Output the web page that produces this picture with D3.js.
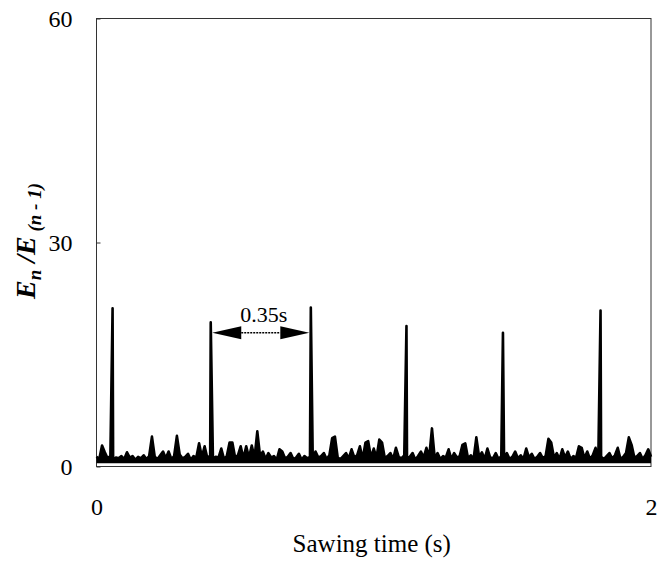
<!DOCTYPE html>
<html>
<head>
<meta charset="utf-8">
<script src="https://cdn.jsdelivr.net/npm/d3@7"></script>
<style>
    body { margin: 0; background: #fff; }
    svg { display: block; }
    text { font-family: "Liberation Serif", "Times New Roman", serif; fill: #000; }
</style>
</head>
<body>
<div id="chart"></div>
<script>
// Energy ratio vs sawing time

// noise trace, one value every 0.01 s from 0 to 2 s
var sampleStep = 0.01;
var noiseValues = [
    1.3, 1.0, 2.8, 1.9, 1.1, 1.4, 0.9, 1.2, 1.1, 1.4,
    1.0, 1.9, 1.2, 1.4, 0.9, 1.3, 1.1, 1.5, 1.0, 1.4,
    4.0, 1.3, 1.0, 1.5, 2.0, 1.1, 2.0, 1.0, 1.4, 4.1,
    1.6, 1.1, 1.3, 1.7, 0.9, 1.4, 1.2, 3.1, 1.3, 2.7,
    1.1, 1.5, 1.0, 1.3, 1.2, 2.4, 1.0, 1.4, 3.2, 3.2,
    1.2, 1.5, 2.7, 1.1, 2.7, 1.2, 2.8, 1.2, 4.7, 1.4,
    2.0, 1.0, 1.8, 1.2, 1.4, 0.9, 2.3, 2.0, 1.1, 1.3,
    1.8, 1.0, 1.2, 1.7, 0.9, 1.4, 1.1, 1.3, 1.0, 2.0,
    1.2, 1.4, 1.8, 1.0, 1.5, 3.8, 4.0, 1.2, 1.0, 1.4,
    1.8, 1.1, 2.3, 1.2, 1.5, 2.7, 1.0, 3.2, 3.4, 1.2,
    2.4, 1.2, 3.6, 3.2, 1.1, 1.4, 1.8, 1.0, 2.5, 1.3,
    1.1, 1.5, 1.0, 1.3, 1.8, 0.9, 1.4, 2.0, 1.2, 2.5,
    1.3, 5.1, 1.1, 1.8, 1.0, 1.4, 1.2, 2.3, 1.0, 1.8,
    1.2, 1.4, 2.9, 3.1, 1.1, 1.5, 1.0, 3.9, 1.3, 1.9,
    1.0, 2.4, 1.2, 1.1, 1.8, 1.0, 1.4, 1.2, 1.8, 1.0,
    1.3, 2.0, 1.1, 1.5, 1.0, 2.4, 1.2, 1.7, 1.0, 1.3,
    1.8, 1.1, 1.4, 3.7, 3.2, 1.2, 1.8, 1.0, 2.3, 1.2,
    2.0, 1.0, 1.4, 1.2, 2.7, 2.5, 1.1, 2.0, 1.0, 1.5,
    2.5, 1.2, 1.3, 1.0, 1.4, 1.8, 1.1, 1.5, 2.5, 1.0,
    1.3, 1.8, 3.9, 2.9, 1.2, 1.4, 1.8, 1.0, 1.5, 2.3,
    1.3
];
// bottom edge of the dense noise band
var noiseFloor = 0.45;

// large energy peaks
var spikeTimes = [0.058, 0.412, 0.773, 1.118, 1.466, 1.818];
var spikeHeights = [21.2, 19.3, 21.3, 18.8, 17.9, 20.9];

// period annotation between 2nd and 3rd peak
var periodFrom = 1;
var periodTo = 2;
var periodLevel = 17.9;
var periodLabel = "0.35s";

var xTicks = [0, 2];
var yTicks = [0, 30, 60];

var svgWidth = 671;
var svgHeight = 563;

var margin = {
    top: 18.5,
    bottom: 96.5,
    right: 20,
    left: 96.5
};

var height = svgHeight - margin.top - margin.bottom;
var width = svgWidth - margin.left - margin.right;

var svg = d3.select("#chart")
    .append("svg")
    .attr("width", svgWidth)
    .attr("height", svgHeight);

var chartGroup = svg.append("g")
    .attr("transform", `translate(${margin.left}, ${margin.top})`);

// build trace: grid samples plus spike points, sorted by time
var trace = noiseValues.map((v, i) => ({ t: i * sampleStep, v: v }));
spikeTimes.forEach(function (t, i) {
    trace.push({ t: t, v: spikeHeights[i] });
});
trace.sort((a, b) => a.t - b.t);

var xLinearScale = d3.scaleLinear()
    .domain([0, 2])
    .range([0, width]);

var yLinearScale = d3.scaleLinear()
    .domain([0, 60])
    .range([height, 0]);

// frame
chartGroup.append("rect")
    .attr("x", 0)
    .attr("y", 0)
    .attr("width", width)
    .attr("height", height)
    .attr("fill", "none")
    .attr("stroke", "#333")
    .attr("stroke-width", 1);

// axes (labels only, small inward ticks on y)
var leftAxis = d3.axisLeft(yLinearScale)
    .tickValues(yTicks)
    .tickFormat(d3.format("d"))
    .tickSize(-4)
    .tickPadding(24);

var bottomAxis = d3.axisBottom(xLinearScale)
    .tickValues(xTicks)
    .tickFormat(d3.format("d"))
    .tickSize(0)
    .tickPadding(31);

var yAxis = chartGroup.append("g")
    .call(leftAxis);

var xAxis = chartGroup.append("g")
    .attr("transform", `translate(0, ${height})`)
    .call(bottomAxis);

[xAxis, yAxis].forEach(function (ax) {
    ax.select(".domain").remove();
    ax.selectAll("line").attr("stroke", "#333");
    ax.selectAll("text")
        .style("font-family", "'Liberation Serif', 'Times New Roman', serif")
        .style("font-size", "24px")
        .attr("fill", "#000");
});

// filled noise band under the trace
var area = d3.area()
    .x(d => xLinearScale(d.t))
    .y0(yLinearScale(noiseFloor))
    .y1(d => yLinearScale(d.v));

chartGroup.append("path")
    .datum(trace)
    .attr("d", area)
    .attr("fill", "#000");

// trace line
var line = d3.line()
    .x(d => xLinearScale(d.t))
    .y(d => yLinearScale(d.v));

chartGroup.append("path")
    .datum(trace)
    .attr("d", line)
    .attr("fill", "none")
    .attr("stroke", "#000")
    .attr("stroke-width", 2.6)
    .attr("stroke-linejoin", "round");

// period arrow
var ax1 = xLinearScale(spikeTimes[periodFrom]) + 1.5;
var ax2 = xLinearScale(spikeTimes[periodTo]) - 1.5;
var ay = yLinearScale(periodLevel);
var headLen = 29;
var headHalf = 6.5;

chartGroup.append("line")
    .attr("x1", ax1 + headLen)
    .attr("x2", ax2 - headLen)
    .attr("y1", ay)
    .attr("y2", ay)
    .attr("stroke", "#000")
    .attr("stroke-width", 1.5)
    .attr("stroke-dasharray", "2,1");

chartGroup.append("path")
    .attr("d", `M${ax1},${ay} L${ax1 + headLen},${ay - headHalf} L${ax1 + headLen},${ay + headHalf} Z`)
    .attr("fill", "#000");

chartGroup.append("path")
    .attr("d", `M${ax2},${ay} L${ax2 - headLen},${ay - headHalf} L${ax2 - headLen},${ay + headHalf} Z`)
    .attr("fill", "#000");

chartGroup.append("text")
    .attr("x", (ax1 + ax2) / 2 + 3)
    .attr("y", ay - 11)
    .attr("text-anchor", "middle")
    .style("font-size", "22px")
    .text(periodLabel);

// x axis title
chartGroup.append("text")
    .attr("x", width / 2 - 2)
    .attr("y", height + 85)
    .attr("text-anchor", "middle")
    .style("font-size", "25px")
    .text("Sawing time (s)");

// y axis title
var yTitle = svg.append("text")
    .attr("transform", `translate(35, 241) rotate(-90)`)
    .attr("text-anchor", "middle")
    .style("font-size", "28px")
    .style("font-weight", "bold")
    .style("font-style", "italic");

yTitle.append("tspan").text("E");
yTitle.append("tspan").attr("dy", 6).style("font-size", "19px").text("n");
yTitle.append("tspan").attr("dy", -6).text(" /E");
yTitle.append("tspan").attr("dy", 6).style("font-size", "19px").text(" (n - 1)");
</script>
</body>
</html>
